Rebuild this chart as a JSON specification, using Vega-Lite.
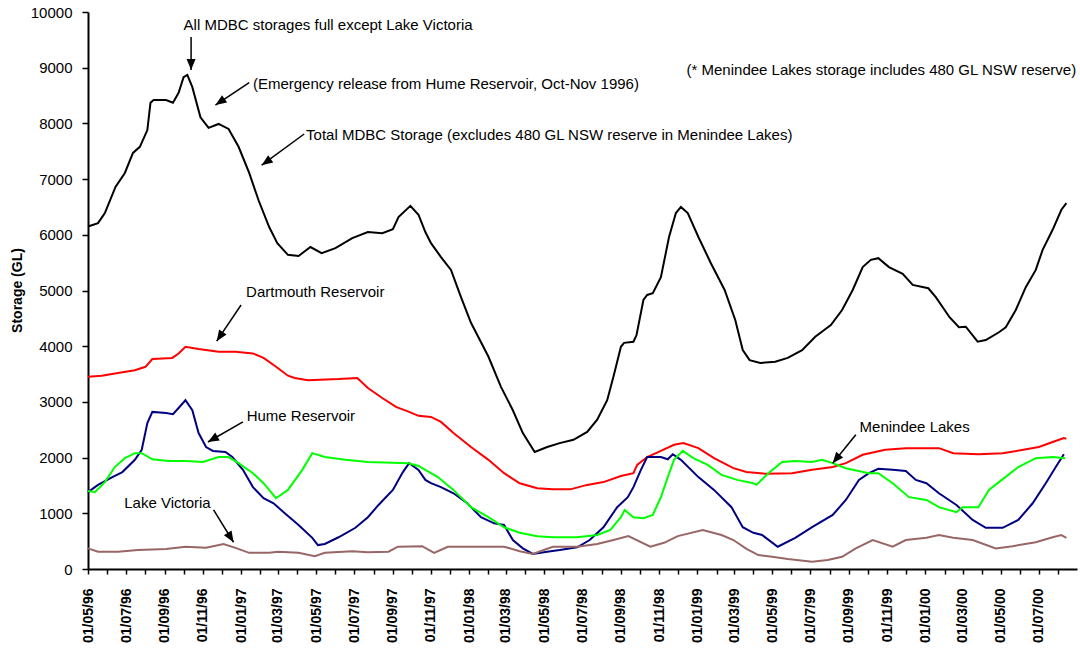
{
  "$schema": "https://vega.github.io/schema/vega-lite/v6.json",
  "width": 989,
  "height": 557,
  "autosize": {"type": "none"},
  "padding": {"left": 88, "top": 12, "right": 3, "bottom": 85},
  "background": "white",
  "config": {"view": {"stroke": null}, "font": "Liberation Sans"},
  "datasets": {
    "series": [
      {"s":"Total","d":"1996-05-01","v":6150},{"s":"Total","d":"1996-05-17","v":6210},{"s":"Total","d":"1996-05-28","v":6390},{"s":"Total","d":"1996-06-14","v":6860},{"s":"Total","d":"1996-06-29","v":7110},{"s":"Total","d":"1996-07-12","v":7470},{"s":"Total","d":"1996-07-23","v":7580},{"s":"Total","d":"1996-08-04","v":7880},{"s":"Total","d":"1996-08-09","v":8370},{"s":"Total","d":"1996-08-14","v":8420},{"s":"Total","d":"1996-09-03","v":8420},{"s":"Total","d":"1996-09-14","v":8370},{"s":"Total","d":"1996-09-23","v":8550},{"s":"Total","d":"1996-10-01","v":8830},{"s":"Total","d":"1996-10-07","v":8870},{"s":"Total","d":"1996-10-15","v":8650},{"s":"Total","d":"1996-10-28","v":8110},{"s":"Total","d":"1996-11-10","v":7920},{"s":"Total","d":"1996-11-26","v":7990},{"s":"Total","d":"1996-12-12","v":7900},{"s":"Total","d":"1996-12-28","v":7580},{"s":"Total","d":"1997-01-14","v":7110},{"s":"Total","d":"1997-01-29","v":6620},{"s":"Total","d":"1997-02-15","v":6140},{"s":"Total","d":"1997-02-28","v":5850},{"s":"Total","d":"1997-03-17","v":5640},{"s":"Total","d":"1997-04-03","v":5620},{"s":"Total","d":"1997-04-22","v":5780},{"s":"Total","d":"1997-05-10","v":5670},{"s":"Total","d":"1997-06-01","v":5760},{"s":"Total","d":"1997-06-28","v":5940},{"s":"Total","d":"1997-07-23","v":6050},{"s":"Total","d":"1997-08-15","v":6030},{"s":"Total","d":"1997-09-01","v":6100},{"s":"Total","d":"1997-09-10","v":6320},{"s":"Total","d":"1997-09-29","v":6520},{"s":"Total","d":"1997-10-12","v":6360},{"s":"Total","d":"1997-10-23","v":6050},{"s":"Total","d":"1997-11-01","v":5850},{"s":"Total","d":"1997-11-17","v":5600},{"s":"Total","d":"1997-12-03","v":5370},{"s":"Total","d":"1997-12-19","v":4880},{"s":"Total","d":"1998-01-04","v":4420},{"s":"Total","d":"1998-02-01","v":3810},{"s":"Total","d":"1998-02-21","v":3270},{"s":"Total","d":"1998-03-12","v":2850},{"s":"Total","d":"1998-03-28","v":2440},{"s":"Total","d":"1998-04-16","v":2100},{"s":"Total","d":"1998-05-06","v":2190},{"s":"Total","d":"1998-05-26","v":2260},{"s":"Total","d":"1998-06-17","v":2320},{"s":"Total","d":"1998-07-09","v":2460},{"s":"Total","d":"1998-07-25","v":2680},{"s":"Total","d":"1998-08-10","v":3030},{"s":"Total","d":"1998-08-20","v":3450},{"s":"Total","d":"1998-09-01","v":3990},{"s":"Total","d":"1998-09-06","v":4060},{"s":"Total","d":"1998-09-21","v":4080},{"s":"Total","d":"1998-09-26","v":4200},{"s":"Total","d":"1998-10-07","v":4830},{"s":"Total","d":"1998-10-13","v":4920},{"s":"Total","d":"1998-10-22","v":4950},{"s":"Total","d":"1998-11-04","v":5240},{"s":"Total","d":"1998-11-17","v":5960},{"s":"Total","d":"1998-11-28","v":6390},{"s":"Total","d":"1998-12-06","v":6500},{"s":"Total","d":"1998-12-17","v":6390},{"s":"Total","d":"1999-01-03","v":5960},{"s":"Total","d":"1999-01-23","v":5490},{"s":"Total","d":"1999-02-14","v":5010},{"s":"Total","d":"1999-03-03","v":4470},{"s":"Total","d":"1999-03-15","v":3930},{"s":"Total","d":"1999-03-26","v":3750},{"s":"Total","d":"1999-04-12","v":3700},{"s":"Total","d":"1999-05-06","v":3720},{"s":"Total","d":"1999-05-26","v":3790},{"s":"Total","d":"1999-06-18","v":3930},{"s":"Total","d":"1999-07-09","v":4170},{"s":"Total","d":"1999-08-03","v":4380},{"s":"Total","d":"1999-08-21","v":4650},{"s":"Total","d":"1999-09-07","v":5010},{"s":"Total","d":"1999-09-23","v":5420},{"s":"Total","d":"1999-10-06","v":5550},{"s":"Total","d":"1999-10-18","v":5580},{"s":"Total","d":"1999-11-04","v":5420},{"s":"Total","d":"1999-11-26","v":5300},{"s":"Total","d":"1999-12-12","v":5100},{"s":"Total","d":"2000-01-06","v":5040},{"s":"Total","d":"2000-01-18","v":4880},{"s":"Total","d":"2000-02-09","v":4520},{"s":"Total","d":"2000-02-24","v":4340},{"s":"Total","d":"2000-03-06","v":4350},{"s":"Total","d":"2000-03-25","v":4080},{"s":"Total","d":"2000-04-07","v":4110},{"s":"Total","d":"2000-04-28","v":4250},{"s":"Total","d":"2000-05-09","v":4340},{"s":"Total","d":"2000-05-25","v":4650},{"s":"Total","d":"2000-06-10","v":5060},{"s":"Total","d":"2000-06-26","v":5370},{"s":"Total","d":"2000-07-07","v":5730},{"s":"Total","d":"2000-07-23","v":6090},{"s":"Total","d":"2000-08-06","v":6450},{"s":"Total","d":"2000-08-14","v":6570},

      {"s":"Dartmouth","d":"1996-05-01","v":3450},{"s":"Dartmouth","d":"1996-05-23","v":3470},{"s":"Dartmouth","d":"1996-06-18","v":3520},{"s":"Dartmouth","d":"1996-07-15","v":3570},{"s":"Dartmouth","d":"1996-08-01","v":3630},{"s":"Dartmouth","d":"1996-08-12","v":3770},{"s":"Dartmouth","d":"1996-09-13","v":3790},{"s":"Dartmouth","d":"1996-09-23","v":3870},{"s":"Dartmouth","d":"1996-10-04","v":3990},{"s":"Dartmouth","d":"1996-10-25","v":3950},{"s":"Dartmouth","d":"1996-11-26","v":3900},{"s":"Dartmouth","d":"1996-12-23","v":3900},{"s":"Dartmouth","d":"1997-01-20","v":3870},{"s":"Dartmouth","d":"1997-02-06","v":3790},{"s":"Dartmouth","d":"1997-02-26","v":3630},{"s":"Dartmouth","d":"1997-03-17","v":3470},{"s":"Dartmouth","d":"1997-03-28","v":3430},{"s":"Dartmouth","d":"1997-04-18","v":3390},{"s":"Dartmouth","d":"1997-06-06","v":3410},{"s":"Dartmouth","d":"1997-07-06","v":3430},{"s":"Dartmouth","d":"1997-07-23","v":3250},{"s":"Dartmouth","d":"1997-08-15","v":3070},{"s":"Dartmouth","d":"1997-09-06","v":2910},{"s":"Dartmouth","d":"1997-09-27","v":2820},{"s":"Dartmouth","d":"1997-10-12","v":2750},{"s":"Dartmouth","d":"1997-11-01","v":2730},{"s":"Dartmouth","d":"1997-11-17","v":2640},{"s":"Dartmouth","d":"1997-12-07","v":2440},{"s":"Dartmouth","d":"1998-01-04","v":2190},{"s":"Dartmouth","d":"1998-02-01","v":1960},{"s":"Dartmouth","d":"1998-02-26","v":1720},{"s":"Dartmouth","d":"1998-03-23","v":1540},{"s":"Dartmouth","d":"1998-04-20","v":1450},{"s":"Dartmouth","d":"1998-05-15","v":1430},{"s":"Dartmouth","d":"1998-06-12","v":1430},{"s":"Dartmouth","d":"1998-07-09","v":1510},{"s":"Dartmouth","d":"1998-08-04","v":1560},{"s":"Dartmouth","d":"1998-09-01","v":1670},{"s":"Dartmouth","d":"1998-09-21","v":1720},{"s":"Dartmouth","d":"1998-09-27","v":1870},{"s":"Dartmouth","d":"1998-10-13","v":2010},{"s":"Dartmouth","d":"1998-11-04","v":2120},{"s":"Dartmouth","d":"1998-11-25","v":2230},{"s":"Dartmouth","d":"1998-12-10","v":2260},{"s":"Dartmouth","d":"1999-01-03","v":2170},{"s":"Dartmouth","d":"1999-01-28","v":1990},{"s":"Dartmouth","d":"1999-02-28","v":1810},{"s":"Dartmouth","d":"1999-03-21","v":1740},{"s":"Dartmouth","d":"1999-04-12","v":1720},{"s":"Dartmouth","d":"1999-04-20","v":1710},{"s":"Dartmouth","d":"1999-06-02","v":1720},{"s":"Dartmouth","d":"1999-07-04","v":1780},{"s":"Dartmouth","d":"1999-08-06","v":1830},{"s":"Dartmouth","d":"1999-08-27","v":1900},{"s":"Dartmouth","d":"1999-09-23","v":2050},{"s":"Dartmouth","d":"1999-10-29","v":2140},{"s":"Dartmouth","d":"1999-12-01","v":2170},{"s":"Dartmouth","d":"2000-01-23","v":2170},{"s":"Dartmouth","d":"2000-02-15","v":2080},{"s":"Dartmouth","d":"2000-03-26","v":2060},{"s":"Dartmouth","d":"2000-05-04","v":2080},{"s":"Dartmouth","d":"2000-06-06","v":2140},{"s":"Dartmouth","d":"2000-07-01","v":2190},{"s":"Dartmouth","d":"2000-07-23","v":2280},{"s":"Dartmouth","d":"2000-08-10","v":2350},{"s":"Dartmouth","d":"2000-08-14","v":2340},

      {"s":"Hume","d":"1996-05-01","v":1380},{"s":"Hume","d":"1996-05-17","v":1510},{"s":"Hume","d":"1996-06-09","v":1650},{"s":"Hume","d":"1996-06-25","v":1740},{"s":"Hume","d":"1996-07-15","v":1960},{"s":"Hume","d":"1996-07-26","v":2140},{"s":"Hume","d":"1996-08-04","v":2620},{"s":"Hume","d":"1996-08-12","v":2820},{"s":"Hume","d":"1996-09-03","v":2800},{"s":"Hume","d":"1996-09-14","v":2780},{"s":"Hume","d":"1996-09-23","v":2890},{"s":"Hume","d":"1996-10-04","v":3030},{"s":"Hume","d":"1996-10-15","v":2850},{"s":"Hume","d":"1996-10-25","v":2440},{"s":"Hume","d":"1996-11-06","v":2190},{"s":"Hume","d":"1996-11-17","v":2120},{"s":"Hume","d":"1996-12-07","v":2100},{"s":"Hume","d":"1996-12-18","v":2010},{"s":"Hume","d":"1997-01-04","v":1780},{"s":"Hume","d":"1997-01-20","v":1470},{"s":"Hume","d":"1997-02-06","v":1270},{"s":"Hume","d":"1997-02-22","v":1180},{"s":"Hume","d":"1997-03-12","v":1000},{"s":"Hume","d":"1997-04-03","v":790},{"s":"Hume","d":"1997-04-25","v":560},{"s":"Hume","d":"1997-05-04","v":430},{"s":"Hume","d":"1997-05-15","v":450},{"s":"Hume","d":"1997-06-06","v":570},{"s":"Hume","d":"1997-07-03","v":740},{"s":"Hume","d":"1997-07-23","v":930},{"s":"Hume","d":"1997-08-09","v":1150},{"s":"Hume","d":"1997-09-01","v":1420},{"s":"Hume","d":"1997-09-17","v":1740},{"s":"Hume","d":"1997-09-27","v":1900},{"s":"Hume","d":"1997-10-12","v":1780},{"s":"Hume","d":"1997-10-23","v":1600},{"s":"Hume","d":"1997-11-01","v":1540},{"s":"Hume","d":"1997-11-17","v":1470},{"s":"Hume","d":"1997-12-07","v":1360},{"s":"Hume","d":"1997-12-29","v":1180},{"s":"Hume","d":"1998-01-20","v":930},{"s":"Hume","d":"1998-02-10","v":820},{"s":"Hume","d":"1998-02-26","v":790},{"s":"Hume","d":"1998-03-12","v":520},{"s":"Hume","d":"1998-03-28","v":370},{"s":"Hume","d":"1998-04-13","v":270},{"s":"Hume","d":"1998-05-06","v":310},{"s":"Hume","d":"1998-05-26","v":340},{"s":"Hume","d":"1998-06-23","v":390},{"s":"Hume","d":"1998-07-13","v":520},{"s":"Hume","d":"1998-08-04","v":750},{"s":"Hume","d":"1998-08-26","v":1110},{"s":"Hume","d":"1998-09-12","v":1290},{"s":"Hume","d":"1998-09-21","v":1470},{"s":"Hume","d":"1998-10-03","v":1780},{"s":"Hume","d":"1998-10-13","v":2010},{"s":"Hume","d":"1998-11-04","v":2010},{"s":"Hume","d":"1998-11-15","v":1970},{"s":"Hume","d":"1998-11-23","v":2060},{"s":"Hume","d":"1998-12-06","v":1960},{"s":"Hume","d":"1999-01-03","v":1650},{"s":"Hume","d":"1999-01-28","v":1420},{"s":"Hume","d":"1999-02-25","v":1110},{"s":"Hume","d":"1999-03-15","v":750},{"s":"Hume","d":"1999-04-01","v":650},{"s":"Hume","d":"1999-04-15","v":610},{"s":"Hume","d":"1999-05-10","v":400},{"s":"Hume","d":"1999-06-07","v":560},{"s":"Hume","d":"1999-07-04","v":750},{"s":"Hume","d":"1999-08-06","v":970},{"s":"Hume","d":"1999-08-27","v":1240},{"s":"Hume","d":"1999-09-17","v":1600},{"s":"Hume","d":"1999-10-03","v":1720},{"s":"Hume","d":"1999-10-18","v":1800},{"s":"Hume","d":"1999-11-10","v":1780},{"s":"Hume","d":"1999-12-01","v":1760},{"s":"Hume","d":"1999-12-17","v":1600},{"s":"Hume","d":"2000-01-03","v":1540},{"s":"Hume","d":"2000-01-23","v":1360},{"s":"Hume","d":"2000-02-20","v":1150},{"s":"Hume","d":"2000-03-17","v":880},{"s":"Hume","d":"2000-04-07","v":740},{"s":"Hume","d":"2000-05-04","v":740},{"s":"Hume","d":"2000-05-29","v":880},{"s":"Hume","d":"2000-06-21","v":1180},{"s":"Hume","d":"2000-07-12","v":1540},{"s":"Hume","d":"2000-07-28","v":1830},{"s":"Hume","d":"2000-08-10","v":2060},

      {"s":"Menindee","d":"1996-05-01","v":1400},{"s":"Menindee","d":"1996-05-12","v":1380},{"s":"Menindee","d":"1996-05-28","v":1560},{"s":"Menindee","d":"1996-06-13","v":1830},{"s":"Menindee","d":"1996-06-29","v":1990},{"s":"Menindee","d":"1996-07-15","v":2080},{"s":"Menindee","d":"1996-07-26","v":2080},{"s":"Menindee","d":"1996-08-12","v":1970},{"s":"Menindee","d":"1996-09-07","v":1940},{"s":"Menindee","d":"1996-10-04","v":1940},{"s":"Menindee","d":"1996-11-01","v":1920},{"s":"Menindee","d":"1996-11-26","v":2010},{"s":"Menindee","d":"1996-12-12","v":2010},{"s":"Menindee","d":"1996-12-28","v":1900},{"s":"Menindee","d":"1997-01-20","v":1720},{"s":"Menindee","d":"1997-02-06","v":1540},{"s":"Menindee","d":"1997-02-26","v":1270},{"s":"Menindee","d":"1997-03-17","v":1420},{"s":"Menindee","d":"1997-04-09","v":1780},{"s":"Menindee","d":"1997-04-25","v":2080},{"s":"Menindee","d":"1997-05-15","v":2010},{"s":"Menindee","d":"1997-06-17","v":1960},{"s":"Menindee","d":"1997-07-23","v":1920},{"s":"Menindee","d":"1997-09-26","v":1900},{"s":"Menindee","d":"1997-10-12","v":1850},{"s":"Menindee","d":"1997-11-12","v":1650},{"s":"Menindee","d":"1997-12-07","v":1420},{"s":"Menindee","d":"1998-01-04","v":1110},{"s":"Menindee","d":"1998-02-01","v":930},{"s":"Menindee","d":"1998-02-26","v":750},{"s":"Menindee","d":"1998-03-23","v":650},{"s":"Menindee","d":"1998-04-20","v":590},{"s":"Menindee","d":"1998-05-15","v":570},{"s":"Menindee","d":"1998-06-23","v":570},{"s":"Menindee","d":"1998-07-25","v":610},{"s":"Menindee","d":"1998-08-15","v":700},{"s":"Menindee","d":"1998-09-01","v":930},{"s":"Menindee","d":"1998-09-07","v":1060},{"s":"Menindee","d":"1998-09-21","v":930},{"s":"Menindee","d":"1998-10-07","v":910},{"s":"Menindee","d":"1998-10-22","v":970},{"s":"Menindee","d":"1998-11-04","v":1290},{"s":"Menindee","d":"1998-11-15","v":1650},{"s":"Menindee","d":"1998-11-25","v":1960},{"s":"Menindee","d":"1998-12-09","v":2120},{"s":"Menindee","d":"1998-12-26","v":1990},{"s":"Menindee","d":"1999-01-18","v":1870},{"s":"Menindee","d":"1999-02-09","v":1690},{"s":"Menindee","d":"1999-03-06","v":1600},{"s":"Menindee","d":"1999-04-01","v":1540},{"s":"Menindee","d":"1999-04-06","v":1510},{"s":"Menindee","d":"1999-04-25","v":1720},{"s":"Menindee","d":"1999-05-17","v":1920},{"s":"Menindee","d":"1999-06-07","v":1940},{"s":"Menindee","d":"1999-07-04","v":1920},{"s":"Menindee","d":"1999-07-20","v":1960},{"s":"Menindee","d":"1999-08-06","v":1900},{"s":"Menindee","d":"1999-08-27","v":1810},{"s":"Menindee","d":"1999-10-03","v":1720},{"s":"Menindee","d":"1999-10-18","v":1720},{"s":"Menindee","d":"1999-11-10","v":1540},{"s":"Menindee","d":"1999-12-06","v":1290},{"s":"Menindee","d":"2000-01-03","v":1240},{"s":"Menindee","d":"2000-01-23","v":1110},{"s":"Menindee","d":"2000-02-20","v":1020},{"s":"Menindee","d":"2000-03-01","v":1110},{"s":"Menindee","d":"2000-03-26","v":1110},{"s":"Menindee","d":"2000-04-12","v":1420},{"s":"Menindee","d":"2000-04-28","v":1560},{"s":"Menindee","d":"2000-05-29","v":1830},{"s":"Menindee","d":"2000-06-26","v":1990},{"s":"Menindee","d":"2000-07-23","v":2010},{"s":"Menindee","d":"2000-08-12","v":1990},

      {"s":"Victoria","d":"1996-05-01","v":370},{"s":"Victoria","d":"1996-05-17","v":310},{"s":"Victoria","d":"1996-06-18","v":310},{"s":"Victoria","d":"1996-07-20","v":340},{"s":"Victoria","d":"1996-09-03","v":360},{"s":"Victoria","d":"1996-10-04","v":400},{"s":"Victoria","d":"1996-11-06","v":380},{"s":"Victoria","d":"1996-12-04","v":450},{"s":"Victoria","d":"1996-12-23","v":380},{"s":"Victoria","d":"1997-01-14","v":290},{"s":"Victoria","d":"1997-02-15","v":290},{"s":"Victoria","d":"1997-03-01","v":310},{"s":"Victoria","d":"1997-04-03","v":290},{"s":"Victoria","d":"1997-04-29","v":230},{"s":"Victoria","d":"1997-05-15","v":290},{"s":"Victoria","d":"1997-06-28","v":320},{"s":"Victoria","d":"1997-07-23","v":300},{"s":"Victoria","d":"1997-08-25","v":310},{"s":"Victoria","d":"1997-09-09","v":400},{"s":"Victoria","d":"1997-10-18","v":410},{"s":"Victoria","d":"1997-11-06","v":290},{"s":"Victoria","d":"1997-11-28","v":400},{"s":"Victoria","d":"1998-01-04","v":400},{"s":"Victoria","d":"1998-02-26","v":400},{"s":"Victoria","d":"1998-03-23","v":320},{"s":"Victoria","d":"1998-04-13","v":270},{"s":"Victoria","d":"1998-05-15","v":400},{"s":"Victoria","d":"1998-06-23","v":400},{"s":"Victoria","d":"1998-07-25","v":450},{"s":"Victoria","d":"1998-08-20","v":520},{"s":"Victoria","d":"1998-09-13","v":590},{"s":"Victoria","d":"1998-10-18","v":400},{"s":"Victoria","d":"1998-11-09","v":470},{"s":"Victoria","d":"1998-12-01","v":590},{"s":"Victoria","d":"1999-01-10","v":700},{"s":"Victoria","d":"1999-02-09","v":610},{"s":"Victoria","d":"1999-02-28","v":520},{"s":"Victoria","d":"1999-03-21","v":360},{"s":"Victoria","d":"1999-04-09","v":250},{"s":"Victoria","d":"1999-05-01","v":220},{"s":"Victoria","d":"1999-05-26","v":180},{"s":"Victoria","d":"1999-07-04","v":130},{"s":"Victoria","d":"1999-07-29","v":160},{"s":"Victoria","d":"1999-08-21","v":220},{"s":"Victoria","d":"1999-09-12","v":370},{"s":"Victoria","d":"1999-10-09","v":520},{"s":"Victoria","d":"1999-11-10","v":400},{"s":"Victoria","d":"1999-12-01","v":520},{"s":"Victoria","d":"2000-01-03","v":560},{"s":"Victoria","d":"2000-01-23","v":610},{"s":"Victoria","d":"2000-02-15","v":560},{"s":"Victoria","d":"2000-03-17","v":520},{"s":"Victoria","d":"2000-04-23","v":370},{"s":"Victoria","d":"2000-05-20","v":410},{"s":"Victoria","d":"2000-06-26","v":480},{"s":"Victoria","d":"2000-07-23","v":570},{"s":"Victoria","d":"2000-08-06","v":610},{"s":"Victoria","d":"2000-08-14","v":560}
    ],
    "notes": [
      {"t":"All MDBC storages full except Lake Victoria","d":"1996-10-01","v":9770},
      {"t":"(Emergency release from Hume Reservoir, Oct-Nov 1996)","d":"1997-01-20","v":8710},
      {"t":"Total MDBC Storage (excludes 480 GL NSW reserve in Menindee Lakes)","d":"1997-04-15","v":7790},
      {"t":"Dartmouth Reservoir","d":"1997-01-09","v":4970},
      {"t":"Hume Reservoir","d":"1997-01-10","v":2750},
      {"t":"Lake Victoria","d":"1996-06-28","v":1180},
      {"t":"Menindee Lakes","d":"1999-09-18","v":2550},
      {"t":"(* Menindee Lakes storage includes 480 GL NSW reserve)","d":"1998-12-15","v":8960}
    ],
    "arrows": [
      {"id":1,"d":"1996-10-13","v":9550,"d2":"1996-10-13","v2":8960},
      {"id":2,"d":"1997-01-14","v":8730,"d2":"1996-11-21","v2":8330},
      {"id":3,"d":"1997-04-12","v":7810,"d2":"1997-02-03","v2":7250},
      {"id":4,"d":"1997-01-01","v":4740,"d2":"1996-11-23","v2":4090},
      {"id":5,"d":"1997-01-04","v":2640,"d2":"1996-11-09","v2":2280},
      {"id":6,"d":"1996-11-18","v":1060,"d2":"1996-12-20","v2":480},
      {"id":7,"d":"1999-09-12","v":2410,"d2":"1999-08-06","v2":1900}
    ]
  },
  "layer": [
    {
      "data": {"name": "series"},
      "mark": {"type": "line", "strokeWidth": 2},
      "encoding": {
        "x": {
          "field": "d", "type": "temporal",
          "scale": {"type": "utc", "domain": [{"year": 1996, "month": 5, "date": 1, "utc": true}, {"year": 2000, "month": 8, "date": 31, "utc": true}]},
          "axis": {
            "title": null,
            "grid": false,
            "tickCount": {"interval": "month", "step": 1},
            "labelExpr": "utcmonth(datum.value) % 2 == 0 ? utcFormat(datum.value, '%d/%m/%y') : ''",
            "labelAngle": 270,
            "labelAlign": "right",
            "labelBaseline": "middle",
            "labelFont": "Liberation Sans",
            "labelFontWeight": "bold",
            "labelFontSize": 14,
            "labelColor": "black",
            "labelPadding": 14,
            "labelOverlap": false,
            "labelFlush": false,
            "tickSize": 5,
            "tickWidth": 1.5,
            "tickColor": "black",
            "domainColor": "black",
            "domainWidth": 2
          }
        },
        "y": {
          "field": "v", "type": "quantitative",
          "scale": {"domain": [0, 10000]},
          "axis": {
            "title": "Storage (GL)",
            "values": [0, 1000, 2000, 3000, 4000, 5000, 6000, 7000, 8000, 9000, 10000],
            "format": "d",
            "grid": false,
            "labelFont": "Liberation Sans",
            "labelFontSize": 15,
            "labelColor": "black",
            "labelPadding": 10,
            "tickSize": 6,
            "tickWidth": 1.5,
            "tickColor": "black",
            "domainColor": "black",
            "domainWidth": 2,
            "titleFont": "Liberation Sans",
            "titleFontSize": 14,
            "titleFontWeight": "bold",
            "titleColor": "black",
            "titleAngle": 270,
            "titleX": -71,
            "titleY": 278,
            "titleAlign": "center",
            "titleBaseline": "middle"
          }
        },
        "color": {
          "field": "s", "type": "nominal",
          "scale": {"domain": ["Total", "Dartmouth", "Hume", "Menindee", "Victoria"], "range": ["#000000", "#FF0000", "#000080", "#00FF00", "#996666"]},
          "legend": null
        }
      }
    },
    {
      "data": {"name": "arrows"},
      "mark": {"type": "rule", "color": "black", "strokeWidth": 1.5},
      "encoding": {
        "x": {"field": "d", "type": "temporal"},
        "y": {"field": "v", "type": "quantitative"},
        "x2": {"field": "d2"},
        "y2": {"field": "v2"}
      }
    },
    {"data": {"name": "arrows"}, "transform": [{"filter": "datum.id == 1"}], "mark": {"type": "point", "shape": "M0,0L-0.9,2.2L0.9,2.2Z", "filled": true, "color": "black", "opacity": 1, "size": 100, "angle": 180}, "encoding": {"x": {"field": "d2", "type": "temporal"}, "y": {"field": "v2", "type": "quantitative"}}},
    {"data": {"name": "arrows"}, "transform": [{"filter": "datum.id == 2"}], "mark": {"type": "point", "shape": "M0,0L-0.9,2.2L0.9,2.2Z", "filled": true, "color": "black", "opacity": 1, "size": 100, "angle": 236}, "encoding": {"x": {"field": "d2", "type": "temporal"}, "y": {"field": "v2", "type": "quantitative"}}},
    {"data": {"name": "arrows"}, "transform": [{"filter": "datum.id == 3"}], "mark": {"type": "point", "shape": "M0,0L-0.9,2.2L0.9,2.2Z", "filled": true, "color": "black", "opacity": 1, "size": 100, "angle": 235}, "encoding": {"x": {"field": "d2", "type": "temporal"}, "y": {"field": "v2", "type": "quantitative"}}},
    {"data": {"name": "arrows"}, "transform": [{"filter": "datum.id == 4"}], "mark": {"type": "point", "shape": "M0,0L-0.9,2.2L0.9,2.2Z", "filled": true, "color": "black", "opacity": 1, "size": 100, "angle": 214}, "encoding": {"x": {"field": "d2", "type": "temporal"}, "y": {"field": "v2", "type": "quantitative"}}},
    {"data": {"name": "arrows"}, "transform": [{"filter": "datum.id == 5"}], "mark": {"type": "point", "shape": "M0,0L-0.9,2.2L0.9,2.2Z", "filled": true, "color": "black", "opacity": 1, "size": 100, "angle": 240}, "encoding": {"x": {"field": "d2", "type": "temporal"}, "y": {"field": "v2", "type": "quantitative"}}},
    {"data": {"name": "arrows"}, "transform": [{"filter": "datum.id == 6"}], "mark": {"type": "point", "shape": "M0,0L-0.9,2.2L0.9,2.2Z", "filled": true, "color": "black", "opacity": 1, "size": 100, "angle": 148}, "encoding": {"x": {"field": "d2", "type": "temporal"}, "y": {"field": "v2", "type": "quantitative"}}},
    {"data": {"name": "arrows"}, "transform": [{"filter": "datum.id == 7"}], "mark": {"type": "point", "shape": "M0,0L-0.9,2.2L0.9,2.2Z", "filled": true, "color": "black", "opacity": 1, "size": 100, "angle": 219}, "encoding": {"x": {"field": "d2", "type": "temporal"}, "y": {"field": "v2", "type": "quantitative"}}},
    {
      "data": {"name": "notes"},
      "mark": {"type": "text", "align": "left", "baseline": "middle", "font": "Liberation Sans", "fontSize": 15, "color": "black"},
      "encoding": {
        "x": {"field": "d", "type": "temporal"},
        "y": {"field": "v", "type": "quantitative"},
        "text": {"field": "t"}
      }
    }
  ]
}
